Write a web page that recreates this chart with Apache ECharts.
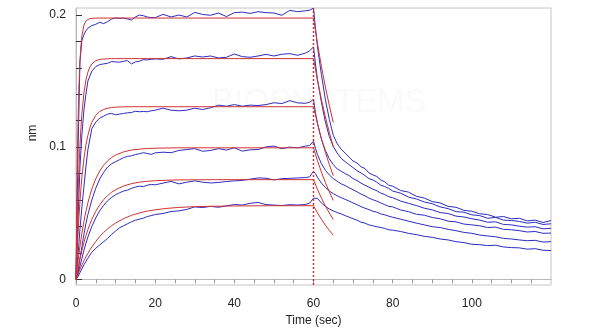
<!DOCTYPE html>
<html><head><meta charset="utf-8">
<script src="https://cdn.jsdelivr.net/npm/echarts@6/dist/echarts.min.js"></script>
<style>html,body{margin:0;padding:0;background:#fff}#c{width:600px;height:334px}</style>
</head><body><div id="c"></div>
<script>
// ---- sample times of the measured (blue) traces, seconds ----
const sampleTimes = [0,0.5,1,1.5,2,2.5,3,4,5,6,7,8,9,10,11,12,13,14,15,16,17,18,19,20,
22,24,26,28,30,32,34,36,38,40,42,44,46,48,50,52,54,56,58,59,60,
60.5,61,62,63,64,65,66,67,68,69,70,71,72,73,74,75,76,77,78,79,80,
82,84,86,88,90,92,94,96,98,100,102,104,106,108,110,112,114,116,118,120];

// ---- measured responses (nm), highest to lowest concentration ----
const blue1 = [0,0.095,0.165,0.181,0.185,0.188,0.190,0.192,0.193,0.1945,0.1935,0.195,0.197,0.1978,0.1975,0.1976,0.197,0.1962,0.1985,0.2,0.1995,0.1985,0.198,0.198,
0.2005,0.1985,0.2,0.1985,0.202,0.2004,0.1998,0.2015,0.1988,0.2018,0.2022,0.2012,0.2025,0.2018,0.2015,0.1998,0.2035,0.2025,0.2032,0.2036,0.2052,
0.190,0.176,0.155,0.136,0.121,0.109,0.1025,0.0985,0.0955,0.0925,0.0895,0.0880,0.0852,0.0838,0.0805,0.0790,0.0778,0.0752,0.0738,0.0712,0.0705,
0.0672,0.0660,0.0628,0.0615,0.0588,0.0578,0.0552,0.0545,0.0522,0.0515,0.0496,0.0490,0.0470,0.0475,0.0458,0.0462,0.0442,0.0448,0.0430,0.0445];
const blue2 = [0,0.045,0.085,0.11,0.128,0.14,0.15,0.1575,0.161,0.1625,0.163,0.1635,0.1648,0.1645,0.1643,0.165,0.1655,0.163,0.1645,0.165,0.1662,0.166,0.1665,0.1668,
0.1665,0.1685,0.1668,0.1675,0.169,0.1682,0.169,0.1675,0.168,0.1705,0.1685,0.168,0.169,0.1702,0.169,0.1703,0.1708,0.1695,0.1712,0.1728,0.1759,
0.163,0.151,0.134,0.119,0.108,0.1005,0.0955,0.0915,0.0890,0.0868,0.0845,0.0822,0.0805,0.0785,0.0762,0.0752,0.0735,0.0712,0.0702,0.0688,0.0668,
0.0652,0.0622,0.0608,0.0585,0.0572,0.0548,0.0535,0.0512,0.0508,0.0488,0.0482,0.0462,0.0468,0.0448,0.0445,0.0438,0.0425,0.0432,0.0415,0.0420];
const blue3 = [0,0.018,0.038,0.055,0.07,0.085,0.098,0.114,0.119,0.122,0.1235,0.125,0.1255,0.1245,0.125,0.1255,0.126,0.1262,0.1272,0.1268,0.127,0.1268,0.1275,0.128,
0.1295,0.128,0.1275,0.128,0.1295,0.1285,0.1298,0.1318,0.131,0.1322,0.131,0.1318,0.1315,0.1322,0.1336,0.133,0.1352,0.1335,0.1332,0.134,0.1361,
0.126,0.118,0.106,0.0975,0.0912,0.0868,0.0835,0.0818,0.0800,0.0785,0.0762,0.0748,0.0728,0.0712,0.0698,0.0682,0.0670,0.0652,0.0642,0.0625,0.0618,
0.0592,0.0575,0.0558,0.0538,0.0525,0.0505,0.0498,0.0478,0.0472,0.0458,0.0448,0.0432,0.0435,0.0415,0.0412,0.0402,0.0395,0.0398,0.0382,0.0386];
const blue4 = [0,0.006,0.016,0.025,0.034,0.042,0.049,0.06,0.069,0.076,0.081,0.085,0.0875,0.089,0.0905,0.092,0.093,0.0935,0.0944,0.095,0.0958,0.0952,0.0945,0.0957,
0.0962,0.0958,0.0975,0.0982,0.0989,0.0969,0.0975,0.0989,0.0978,0.0995,0.097,0.098,0.0982,0.1002,0.1008,0.0989,0.1,0.0995,0.1008,0.1012,0.1045,
0.099,0.0945,0.0875,0.0825,0.0790,0.0762,0.0742,0.0722,0.0710,0.0692,0.0678,0.0662,0.0645,0.0632,0.0615,0.0602,0.0592,0.0578,0.0565,0.0552,0.0548,
0.0525,0.0512,0.0492,0.0485,0.0468,0.0458,0.0440,0.0435,0.0418,0.0412,0.0405,0.0392,0.0395,0.0378,0.0375,0.0368,0.0358,0.0362,0.0348,0.0350];
const blue5 = [0,0.004,0.01,0.016,0.022,0.027,0.032,0.04,0.0465,0.052,0.056,0.0595,0.062,0.064,0.0655,0.0668,0.0675,0.0688,0.0698,0.0705,0.0702,0.0712,0.0718,0.0715,
0.0728,0.0741,0.0722,0.0735,0.0745,0.0735,0.0729,0.0733,0.074,0.0745,0.0748,0.0758,0.0767,0.0765,0.0752,0.0762,0.0764,0.0767,0.077,0.0775,0.0817,
0.0800,0.0772,0.0728,0.0695,0.0668,0.0648,0.0632,0.0618,0.0605,0.0592,0.0578,0.0565,0.0550,0.0538,0.0528,0.0515,0.0508,0.0495,0.0488,0.0478,0.0470,
0.0455,0.0440,0.0425,0.0412,0.0398,0.0392,0.0378,0.0368,0.0355,0.0348,0.0335,0.0328,0.0322,0.0310,0.0305,0.0298,0.0292,0.0295,0.0282,0.0285];
const blue6 = [0,0.002,0.005,0.008,0.011,0.0135,0.016,0.0205,0.0235,0.026,0.0285,0.031,0.034,0.0365,0.039,0.0405,0.042,0.0435,0.0447,0.0455,0.0462,0.0475,0.0482,0.049,
0.0498,0.0513,0.0518,0.0529,0.0548,0.0543,0.0552,0.0545,0.0556,0.0566,0.0562,0.0575,0.0582,0.0565,0.0562,0.0558,0.0565,0.0562,0.0566,0.0576,0.0614,
0.0628,0.0612,0.0578,0.0552,0.0532,0.0518,0.0505,0.0495,0.0482,0.0470,0.0458,0.0448,0.0432,0.0425,0.0412,0.0405,0.0398,0.0392,0.0385,0.0375,0.0372,
0.0362,0.0348,0.0338,0.0325,0.0318,0.0305,0.0298,0.0285,0.0278,0.0265,0.0262,0.0255,0.0258,0.0245,0.0240,0.0238,0.0228,0.0232,0.0220,0.0218];

// ---- fitted association curves (red) ----
const fitTimes = [0,0.25,0.5,0.75,1,1.25,1.5,2,2.5,3,3.5,4,5,6,7,8,9,10,12,14,16,18,20,23,26,30,35,40,50,60];
const fit1 = [0,0.0716,0.1173,0.1465,0.165,0.1769,0.1844,0.1923,0.1955,0.1968,0.1973,0.1976,0.1977,0.1977,0.1977,0.1977,0.1977,0.1977,0.1977,0.1977,0.1977,0.1977,0.1977,0.1977,0.1977,0.1977,0.1977,0.1977,0.1977,0.1977];
const fit2 = [0,0.0346,0.0621,0.0839,0.1011,0.1148,0.1256,0.141,0.1507,0.1567,0.1606,0.163,0.1654,0.1664,0.1667,0.1669,0.167,0.167,0.167,0.167,0.167,0.167,0.167,0.167,0.167,0.167,0.167,0.167,0.167,0.167];
const fit3 = [0,0.0182,0.0339,0.0473,0.0589,0.0689,0.0775,0.0913,0.1015,0.109,0.1146,0.1188,0.1241,0.127,0.1286,0.1295,0.13,0.1303,0.1305,0.1306,0.1306,0.1306,0.1306,0.1306,0.1306,0.1306,0.1306,0.1306,0.1306,0.1306];
const fit4 = [0,0.007,0.0134,0.0195,0.025,0.0302,0.0351,0.0438,0.0513,0.0578,0.0634,0.0683,0.0762,0.082,0.0864,0.0897,0.0922,0.094,0.0964,0.0978,0.0985,0.099,0.0992,0.0994,0.0995,0.0995,0.0995,0.0995,0.0995,0.0995];
const fit5 = [0,0.0042,0.0082,0.0119,0.0155,0.0188,0.022,0.0278,0.033,0.0376,0.0417,0.0454,0.0515,0.0564,0.0603,0.0634,0.0659,0.0678,0.0706,0.0724,0.0735,0.0742,0.0746,0.075,0.0752,0.0753,0.0754,0.0754,0.0754,0.0754];
const fit6 = [0,0.002,0.0039,0.0057,0.0075,0.0092,0.0109,0.014,0.0169,0.0196,0.0222,0.0245,0.0287,0.0324,0.0355,0.0382,0.0406,0.0426,0.0459,0.0484,0.0502,0.0516,0.0526,0.0537,0.0544,0.055,0.0553,0.0555,0.0557,0.0557];

// ---- fitted dissociation segments (red) ----
const decayTimes = [60,61,62,63,64,65];
const decay1 = [0.1977,0.1785,0.1611,0.1455,0.1315,0.1186];
const decay2 = [0.167,0.1508,0.1361,0.1229,0.1111,0.1002];
const decay3 = [0.1306,0.1179,0.1064,0.0961,0.0868,0.0784];
const decay4 = [0.0995,0.0898,0.0811,0.0732,0.0662,0.0597];
const decay5 = [0.0754,0.0681,0.0615,0.0555,0.0501,0.0452];
const decay6 = [0.0557,0.0503,0.0454,0.041,0.037,0.0334];

// ---- axes ----
const xTicks = [0,5,10,15,20,25,30,35,40,45,50,55,60,65,70,75,80,85,90,95,100,105,110,115];
const xTickLabels = [0,20,40,60,80,100];
const yTicks = [0,0.02,0.04,0.06,0.08,0.1,0.12,0.14,0.16,0.18,0.2];
const yTickLabels = [0,0.1,0.2];
const yMin = -0.0043, yMax = 0.2053;
const stepTime = 60;

const FONT = '"Liberation Sans", Arial, sans-serif';
const BLUE = '#2c2cc2', RED = '#d03232';
const blueSets = [blue1,blue2,blue3,blue4,blue5,blue6];
const fitSets = [fit1,fit2,fit3,fit4,fit5,fit6];
const decaySets = [decay1,decay2,decay3,decay4,decay5,decay6];

const series = [];
blueSets.forEach(arr => series.push({
  type:'line', data: sampleTimes.map((t,j)=>[t,arr[j]]), symbol:'none', showSymbol:false,
  lineStyle:{color:BLUE,width:1}, z:2, silent:true
}));
fitSets.forEach((arr,i) => series.push({
  type:'line',
  data: fitTimes.map((t,j)=>[t,arr[j]]).concat(decayTimes.map((t,j)=>[t,decaySets[i][j]])),
  symbol:'none', showSymbol:false, lineStyle:{color:RED,width:1}, z:3, silent:true
}));
// dotted vertical marker at the association/dissociation switch
series.push({
  type:'line', data:[[stepTime,yMin],[stepTime,yMax]], symbol:'none', showSymbol:false,
  color:'#e02424',
  lineStyle:{color:'#e02424', width:1.4, type:[2,2], opacity:1}, z:4, silent:true
});

const chart = echarts.init(document.getElementById('c'), null, {renderer:'canvas'});
chart.setOption({
  animation:false,
  backgroundColor:'#ffffff',
  graphic:[{type:'text', left:212, top:86, silent:true, z:0,
    style:{text:'BIOSYSTEMS', fill:'rgba(0,0,0,0.022)', font:'33px ' + FONT}}],
  grid:{left:76, right:49, top:8, bottom:49, show:true, borderColor:'#c4c4c4', borderWidth:1, containLabel:false, outerBoundsMode:'none'},
  xAxis:{
    type:'value', min:0, max:120,
    name:'Time (sec)', nameLocation:'middle', nameGap:29,
    nameTextStyle:{fontFamily:FONT, fontSize:12, color:'#222'},
    axisLine:{show:true, lineStyle:{color:'#b8b8b8'}},
    axisTick:{show:true, inside:false, length:4, lineStyle:{color:'#999'}, customValues:xTicks},
    axisLabel:{customValues:xTickLabels, margin:13, fontFamily:FONT, fontSize:12, color:'#222'},
    splitLine:{show:false}
  },
  yAxis:{
    type:'value', min:yMin, max:yMax,
    name:'nm', nameLocation:'middle', nameGap:37,
    nameTextStyle:{fontFamily:FONT, fontSize:12, color:'#222', padding:[0,0,0,27]},
    axisLine:{show:true, lineStyle:{color:'#b8b8b8'}},
    axisTick:{show:true, inside:true, length:6, lineStyle:{color:'#333'}, customValues:yTicks},
    axisLabel:{customValues:yTickLabels, margin:10, fontFamily:FONT, fontSize:12, color:'#222'},
    splitLine:{show:false}
  },
  series: series
});
</script>
</body></html>
